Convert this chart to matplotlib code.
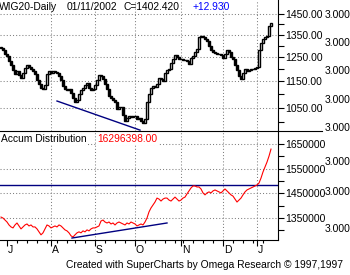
import matplotlib
matplotlib.use("Agg")
import matplotlib.pyplot as plt
import matplotlib.transforms as mtrans
from matplotlib.lines import Line2D
from matplotlib.ticker import NullFormatter
import numpy as np
import pandas as pd

# trading days WIG20, late June 2001 - 11 Jan 2002
holidays = ["2001-08-15", "2001-11-01", "2001-12-24", "2001-12-25",
            "2001-12-26", "2001-12-31", "2002-01-01"]
days = pd.bdate_range("2001-06-27", "2002-01-11")
days = days[~days.isin(pd.to_datetime(holidays))]

first_open = 1295
closes = [1290, 1280, 1265, 1255, 1235, 1215, 1195, 1180, 1190, 1175,
          1165, 1185, 1205, 1215, 1210, 1200, 1190, 1180, 1155, 1140,
          1125, 1120, 1135, 1180, 1190, 1185, 1192, 1188, 1185, 1170,
          1155, 1130, 1122, 1115, 1120, 1105, 1085, 1070, 1080, 1100,
          1115, 1125, 1135, 1142, 1125, 1118, 1122, 1135, 1155, 1175,
          1170, 1160, 1140, 1120, 1095, 1085, 1080, 1072, 1045, 1052,
          1055, 1025, 1005, 1015, 1020, 1018, 1022, 1020, 1012, 1015,
          1005, 998, 1010, 1070, 1100, 1125, 1130, 1128, 1140, 1165,
          1160, 1150, 1185, 1195, 1200, 1225, 1240, 1260, 1250, 1240,
          1242, 1236, 1238, 1232, 1220, 1245, 1255, 1270, 1285, 1340,
          1345, 1338, 1330, 1320, 1300, 1280, 1272, 1268, 1265, 1262,
          1258, 1245, 1262, 1282, 1270, 1252, 1240, 1215, 1195, 1170,
          1160, 1185, 1198, 1190, 1195, 1198, 1200, 1205, 1210, 1280,
          1310, 1330, 1340, 1345, 1389.49, 1402.42]

# accumulation / distribution, millions
accum = [13.54, 13.50, 13.42, 13.34, 13.22, 13.14, 13.10, 13.22, 13.30, 13.18,
         13.06, 13.14, 13.22, 13.26, 13.18, 13.22, 13.14, 13.14, 13.06, 12.94,
         12.82, 12.90, 13.06, 13.22, 13.18, 13.10, 13.14, 13.18, 13.14, 13.22,
         13.18, 13.10, 13.02, 12.98, 12.90, 12.78, 12.73, 12.82, 12.90, 12.94,
         12.90, 12.98, 12.94, 13.02, 12.98, 13.06, 13.10, 13.10, 13.14, 13.18,
         13.38, 13.42, 13.34, 13.30, 13.34, 13.26, 13.30, 13.22, 13.30, 13.34,
         13.30, 13.26, 13.22, 13.30, 13.26, 13.34, 13.30, 13.26, 13.18, 13.22,
         13.26, 13.22, 13.34, 13.50, 13.75, 13.91, 14.03, 14.15, 14.31, 14.27,
         14.19, 14.27, 14.31, 14.31, 14.23, 14.19, 14.27, 14.35, 14.27, 14.19,
         14.23, 14.31, 14.35, 14.48, 14.60, 14.72, 14.80, 14.80, 14.76, 14.76,
         14.68, 14.52, 14.44, 14.52, 14.56, 14.52, 14.60, 14.64, 14.60, 14.56,
         14.52, 14.60, 14.68, 14.60, 14.52, 14.44, 14.39, 14.27, 14.15, 14.23,
         14.31, 14.44, 14.56, 14.64, 14.68, 14.72, 14.76, 14.80, 14.84, 14.92,
         15.12, 15.37, 15.57, 15.77, 16.01, 16.296398]

price_trend_x = [28, 69.5]
price_trend_y = [1075, 973]
ad_trend_x = [35.5, 83]
ad_trend_y = [12.69, 13.30]
ad_level = 14.84

price_ticks = [1050, 1150, 1250, 1350, 1450]
price_labels = ["1050.00", "1150.00", "1250.00", "1350.00", "1450.00"]
price_minor = [1000, 1100, 1200, 1300, 1400]
ad_ticks = [13.5, 14.5, 15.5, 16.5]
ad_labels = ["1350000", "1450000", "1550000", "1650000"]
ad_minor = [13.0, 14.0, 15.0, 16.0]
month_labels = ["J", "A", "S", "O", "N", "D", "J"]

plt.rcParams["font.family"] = ["Liberation Sans", "DejaVu Sans"]
plt.rcParams["font.size"] = 7.4

W, H = 350, 275
fig = plt.figure(figsize=(3.5, 2.75), dpi=100)


def box(x0, y0, x1, y1):
    return [x0 / W, 1 - y1 / H, (x1 - x0) / W, (y1 - y0) / H]


def fy(y):
    return 1 - y / H


ax1 = fig.add_axes(box(0, 0, 278, 131))
ax2 = fig.add_axes(box(0, 131, 278, 240))

closes = np.array(closes, dtype=float)
idx = np.arange(len(closes))
opens = np.r_[first_open, closes[:-1]]
lo = np.minimum(opens, closes)
hi = np.maximum(opens, closes)
face = np.where(closes >= opens, "white", "black")

ax1.set_yscale("log")
ax1.bar(idx, hi - lo, bottom=lo, width=1.1, color=face, edgecolor="black",
        linewidth=1.0, zorder=3)
ax1.plot(price_trend_x, price_trend_y, color="#000080", lw=1.0, zorder=4,
         clip_on=False)
ax1.set_ylim(970, 1520)

ax2.plot(idx, accum, color="red", lw=0.8, zorder=3)
ax2.plot(ad_trend_x, ad_trend_y, color="#000080", lw=1.0, zorder=4)
ax2.axhline(ad_level, color="#000080", lw=1.0, zorder=2)
ax2.set_ylim(12.61, 17.03)

month_pos = [i for i in range(len(days)) if i == 0 or days[i].month != days[i - 1].month][1:]
week_pos = [i for i in range(1, len(days)) if days[i].weekday() < days[i - 1].weekday()]

grid_kw = dict(color="#808080", lw=0.75, linestyle=(0, (1, 2)), zorder=1)
for ax in (ax1, ax2):
    ax.set_xlim(-0.5, 138.5)
    for sp in ("left", "top"):
        ax.spines[sp].set_visible(False)
    ax.spines["right"].set_linewidth(0.8)
    ax.spines["bottom"].set_linewidth(0.8)
    ax.yaxis.tick_right()
    ax.tick_params(axis="y", which="major", length=4, width=0.8, pad=1,
                   labelsize=7.5)
    ax.tick_params(axis="y", which="minor", length=4, width=0.8)
    for m in month_pos[1:]:
        ax.axvline(m, **grid_kw)
    ax.set_facecolor("white")

ax1.spines["bottom"].set_visible(False)
ax1.set_yticks(price_ticks, price_labels)
ax1.set_yticks(price_minor, minor=True)
ax1.yaxis.set_minor_formatter(NullFormatter())
ax1.set_xticks([])
for v in price_ticks:
    ax1.axhline(v, **grid_kw)

ax2.set_yticks(ad_ticks, ad_labels)
ax2.set_yticks(ad_minor, minor=True)
for v in ad_ticks:
    ax2.axhline(v, **grid_kw)
ax2.set_xticks(month_pos, [""] * len(month_pos))
ax2.set_xticks(week_pos, minor=True)
ax2.tick_params(axis="x", which="major", length=4.5, width=0.8)
ax2.tick_params(axis="x", which="minor", length=2.5, width=0.8)

tr = mtrans.blended_transform_factory(ax2.transData, fig.transFigure)
for m, lab in zip(month_pos, month_labels):
    fig.text(m + 0.5, fy(253), lab, transform=tr, ha="left", va="baseline",
             fontsize=7.5)

# separator between panels
fig.add_artist(Line2D([0, 322 / W], [fy(131), fy(131)], transform=fig.transFigure,
                      color="black", lw=0.8))

# headers
fig.text(-1.5 / W, fy(10), "WIG20-Daily", va="baseline")
fig.text(67 / W, fy(10), "01/11/2002", va="baseline")
fig.text(123 / W, fy(10), "C=1402.420", va="baseline")
fig.text(193 / W, fy(10), "+12.930", va="baseline", color="blue")
fig.text(1 / W, fy(142), "Accum Distribution", va="baseline",
         bbox=dict(facecolor="white", edgecolor="none", pad=0.5))
fig.text(97 / W, fy(142), "16296398.00", va="baseline", color="red",
         bbox=dict(facecolor="white", edgecolor="none", pad=0.5))

# overlapping, cut-off labels of a hidden scale on the far right
for y in [15, 43, 71, 100, 128, 162, 192, 229]:
    fig.text(325 / W, fy(y), "3.000", va="center", fontsize=7.5)

fig.text(66 / W, fy(268), "Created with SuperCharts by Omega Research \u00a9 1997,1997",
         va="baseline")

fig.savefig("out.png", dpi=100)
